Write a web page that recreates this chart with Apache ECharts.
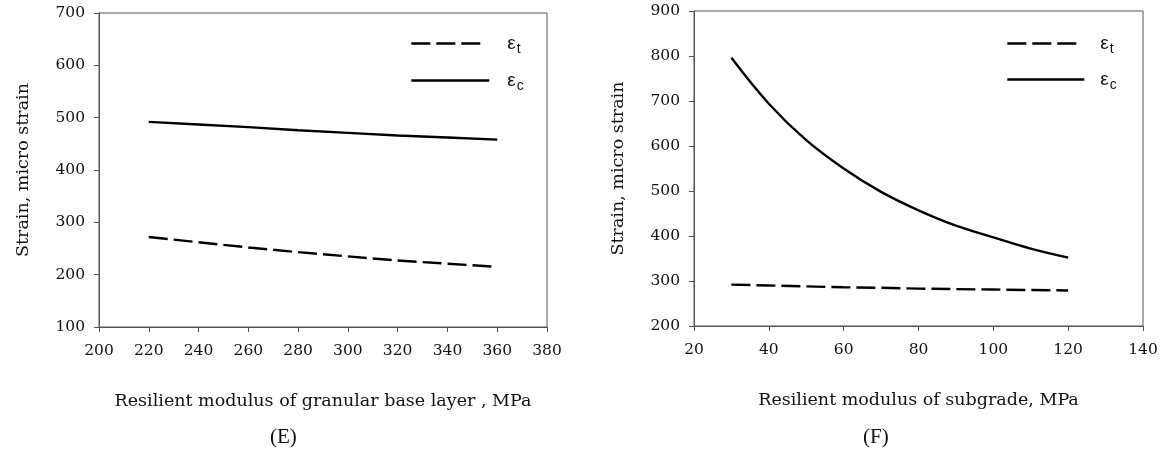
<!DOCTYPE html>
<html>
<head>
<meta charset="utf-8">
<script src="https://cdn.jsdelivr.net/npm/echarts@6/dist/echarts.min.js"></script>
<style>
html,body{margin:0;padding:0;background:#fff;}
#c{width:1162px;height:452px;}
</style>
</head>
<body>
<div id="c"></div>
<script>
// Panel E: granular base layer modulus
var baseModulus = [220, 240, 260, 280, 300, 320, 340, 360];
var baseEt = [272, 262, 252, 243, 235, 227, 221, 215];
var baseEc = [492, 487, 482, 476, 471, 466, 462, 458];
// Panel F: subgrade modulus
var subModulus = [30, 40, 50, 60, 70, 80, 90, 100, 110, 120];
var subEt = [292, 290, 288, 286, 285, 283, 282, 281, 280, 279];
var subEc = [796, 694, 613, 550, 498, 457, 423, 397, 372, 352];

var xTitleE = 'Resilient modulus of granular base layer , MPa';
var xTitleF = 'Resilient modulus of subgrade, MPa';
var yTitle = 'Strain, micro strain';
var panelLabels = ['(E)', '(F)'];
var nameT = 'εt', nameC = 'εc';

function pairs(xs, ys) { return xs.map(function (x, i) { return [x, ys[i]]; }); }

var serif = 'DejaVu Serif';
var axisColor = '#555';
var textColor = '#111';
var dash = [19, 6];

function xAxis(idx, min, max, name) {
  return {
    type: 'value', gridIndex: idx, min: min, max: max, interval: 20,
    name: name, nameLocation: 'middle', nameGap: 65,
    nameTextStyle: { fontFamily: serif, fontSize: 17.5, color: textColor },
    axisLine: { show: true, lineStyle: { color: axisColor, width: 1 } },
    axisTick: { show: true, length: 5, inside: false, lineStyle: { color: axisColor } },
    axisLabel: { margin: 16, fontFamily: serif, fontSize: 15.5, color: textColor },
    splitLine: { show: false }
  };
}
function yAxis(idx, min, max) {
  return {
    type: 'value', gridIndex: idx, min: min, max: max, interval: 100,
    name: yTitle, nameLocation: 'middle', nameGap: 67, nameRotate: 90,
    nameTextStyle: { fontFamily: serif, fontSize: 17.5, color: textColor },
    axisLine: { show: true, lineStyle: { color: axisColor, width: 1 } },
    axisTick: { show: true, length: 5, inside: false, lineStyle: { color: axisColor } },
    axisLabel: { margin: 14, fontFamily: serif, fontSize: 15.5, color: textColor },
    splitLine: { show: false }
  };
}
function line(name, xi, data, dashed, smooth) {
  return {
    type: 'line', name: name, xAxisIndex: xi, yAxisIndex: xi,
    data: data, symbol: 'none', showSymbol: false, smooth: smooth ? 0.4 : false,
    lineStyle: { color: '#000', width: 2.4, type: dashed ? dash : 'solid' },
    silent: true, animation: false
  };
}
var rich = {
  e: { fontFamily: 'Liberation Sans', fontSize: 19, color: textColor },
  s: { fontFamily: 'Liberation Sans', fontSize: 14, color: textColor, padding: [11, 0, 0, 1] }
};
function legend(name, left, top, width, padLeft, dashed) {
  return {
    data: [name], left: left, top: top, itemWidth: width, itemHeight: 14,
    selectedMode: false, padding: 0,
    itemStyle: { opacity: 0, borderWidth: 0 },
    lineStyle: { color: '#000', width: 2.6, type: dashed ? dash : 'solid', opacity: 1 },
    formatter: function (n) { return '{e|' + n.charAt(0) + '}{s|' + n.slice(1) + '}'; },
    textStyle: { rich: rich, padding: [0, 0, 0, padLeft] }
  };
}

var chart = echarts.init(document.getElementById('c'));
chart.setOption({
  backgroundColor: '#fff',
  animation: false,
  grid: [
    { left: 99, top: 13, right: 615, bottom: 125, show: true, borderColor: axisColor, borderWidth: 1 },
    { left: 694, top: 11, right: 19, bottom: 126, show: true, borderColor: axisColor, borderWidth: 1 }
  ],
  xAxis: [xAxis(0, 200, 380, xTitleE), xAxis(1, 20, 140, xTitleF)],
  yAxis: [yAxis(0, 100, 700), yAxis(1, 200, 900)],
  legend: [
    legend(nameT, 410, 34, 69, 22, true),
    legend(nameC, 410, 71, 78, 13, false),
    legend(nameT, 1006, 34, 70, 18, true),
    legend(nameC, 1006, 70, 77, 11, false)
  ],
  series: [
    line(nameT, 0, pairs(baseModulus, baseEt), true, false),
    line(nameC, 0, pairs(baseModulus, baseEc), false, false),
    line(nameT, 1, pairs(subModulus, subEt), true, false),
    line(nameC, 1, pairs(subModulus, subEc), false, true)
  ],
  graphic: [
    { type: 'text', left: 270, top: 427, style: { text: panelLabels[0], fontFamily: 'Liberation Serif', fontSize: 21, fill: textColor } },
    { type: 'text', left: 863, top: 427, style: { text: panelLabels[1], fontFamily: 'Liberation Serif', fontSize: 21, fill: textColor } }
  ]
});
</script>
</body>
</html>
